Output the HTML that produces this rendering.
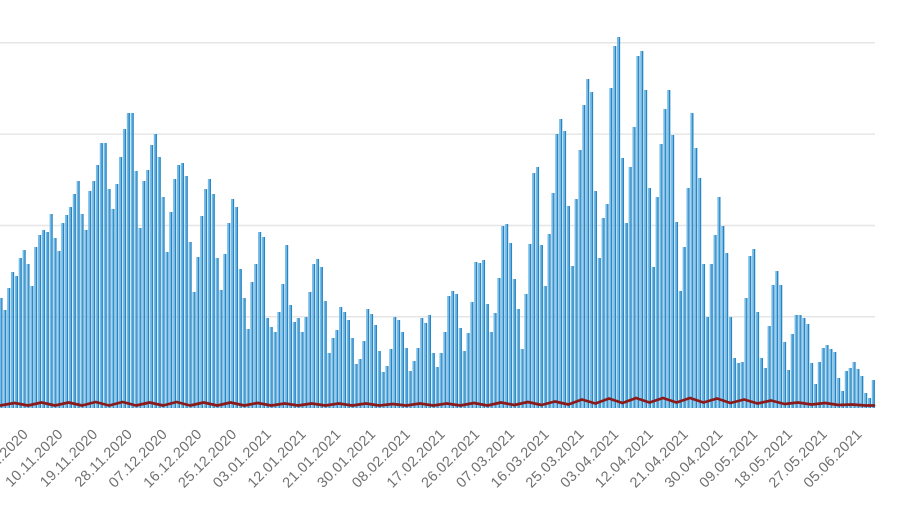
<!DOCTYPE html>
<html>
<head>
<meta charset="utf-8">
<style>
html,body{margin:0;padding:0;background:#fff;}
body{width:900px;height:505px;overflow:hidden;}
svg{display:block;}
text{font-family:"Liberation Sans",Arial,sans-serif;font-size:14.5px;fill:#707070;letter-spacing:0.3px;}
</style>
</head>
<body>
<svg width="900" height="505" viewBox="0 0 900 505" xmlns="http://www.w3.org/2000/svg">
<rect x="0" y="0" width="900" height="505" fill="#ffffff"/>
<g stroke="#e6e6e6" stroke-width="1.5">
<line x1="0" y1="42.8" x2="875" y2="42.8"/>
<line x1="0" y1="134.1" x2="875" y2="134.1"/>
<line x1="0" y1="225.5" x2="875" y2="225.5"/>
<line x1="0" y1="316.8" x2="875" y2="316.8"/>
</g>
<defs>
<path id="bars" fill="none" stroke-linecap="butt" stroke-linejoin="bevel" d="M1,408
V298V408m3.86,0V310V408m3.86,0V288V408m3.86,0V272V408m3.86,0V276V408m3.86,0V258V408m3.86,0V250V408m3.86,0V264V408m3.86,0V286V408m3.86,0V247V408m3.86,0
V235V408m3.86,0V230V408m3.86,0V232V408m3.86,0V214V408m3.86,0V238V408m3.86,0V251V408m3.86,0V223V408m3.86,0V215V408m3.86,0V207V408m3.86,0V194V408m3.86,0
V181V408m3.86,0V214V408m3.86,0V230V408m3.86,0V191V408m3.86,0V181V408m3.86,0V165V408m3.86,0V143V408m3.86,0V143V408m3.86,0V189V408m3.86,0V209V408m3.86,0
V184V408m3.86,0V157V408m3.86,0V129V408m3.86,0V113V408m3.86,0V113V408m3.86,0V171V408m3.86,0V228V408m3.86,0V181V408m3.86,0V170V408m3.86,0V145V408m3.86,0
V134V408m3.86,0V157V408m3.86,0V197V408m3.86,0V252V408m3.86,0V212V408m3.86,0V179V408m3.86,0V165V408m3.86,0V163V408m3.86,0V176V408m3.86,0V242V408m3.86,0
V292V408m3.86,0V257V408m3.86,0V216V408m3.86,0V189V408m3.86,0V179V408m3.86,0V194V408m3.86,0V258V408m3.86,0
V290V408m3.86,0V254V408m3.86,0V223V408m3.86,0V199V408m3.86,0V207V408m3.86,0V269V408m3.86,0V298V408m3.86,0V329V408m3.86,0V282V408m3.86,0V264V408m3.86,0
V232V408m3.86,0V237V408m3.86,0V318V408m3.86,0V327V408m3.86,0V332V408m3.86,0V312V408m3.86,0V284V408m3.86,0V245V408m3.86,0V305V408m3.86,0V322V408m3.86,0
V318V408m3.86,0V332V408m3.86,0V317V408m3.86,0V292V408m3.86,0V264V408m3.86,0V259V408m3.86,0V267V408m3.86,0V301V408m3.86,0V353V408m3.86,0V338V408m3.86,0
V330V408m3.86,0V307V408m3.86,0V312V408m3.86,0V320V408m3.86,0V338V408m3.86,0V364V408m3.86,0V359V408m3.86,0V341V408m3.86,0V309V408m3.86,0V314V408m3.86,0
V325V408m3.86,0V351V408m3.86,0V372V408m3.86,0V366V408m3.86,0V349V408m3.86,0V317V408m3.86,0V320V408m3.86,0V332V408m3.86,0V348V408m3.86,0V371V408m3.86,0
V361V408m3.86,0V348V408m3.86,0V318V408m3.86,0V323V408m3.86,0V315V408m3.86,0V353V408m3.86,0V367V408m3.86,0
V353V408m3.86,0V332V408m3.86,0V296V408m3.86,0V291V408m3.86,0V294V408m3.86,0V328V408m3.86,0V351V408m3.86,0V333V408m3.86,0V302V408m3.86,0V262V408m3.86,0
V263V408m3.86,0V260V408m3.86,0V304V408m3.86,0V332V408m3.86,0V313V408m3.86,0V278V408m3.86,0V226V408m3.86,0V224V408m3.86,0V243V408m3.86,0V279V408m3.86,0
V309V408m3.86,0V349V408m3.86,0V294V408m3.86,0V244V408m3.86,0V173V408m3.86,0V167V408m3.86,0V245V408m3.86,0V286V408m3.86,0V234V408m3.86,0V193V408m3.86,0
V134V408m3.86,0V119V408m3.86,0V131V408m3.86,0V206V408m3.86,0V266V408m3.86,0V199V408m3.86,0V150V408m3.86,0V105V408m3.86,0V79V408m3.86,0V92V408m3.86,0
V191V408m3.86,0V258V408m3.86,0V218V408m3.86,0V204V408m3.86,0V88V408m3.86,0V46V408m3.86,0V37V408m3.86,0V158V408m3.86,0V223V408m3.86,0V167V408m3.86,0
V127V408m3.86,0V56V408m3.86,0V51V408m3.86,0V90V408m3.86,0V188V408m3.86,0V267V408m3.86,0V197V408m3.86,0V144V408m3.86,0
V109V408m3.86,0V90V408m3.86,0V135V408m3.86,0V222V408m3.86,0V291V408m3.86,0V247V408m3.86,0V188V408m3.86,0V113V408m3.86,0V148V408m3.86,0V178V408m3.86,0
V264V408m3.86,0V317V408m3.86,0V264V408m3.86,0V235V408m3.86,0V197V408m3.86,0V226V408m3.86,0V253V408m3.86,0V317V408m3.86,0V358V408m3.86,0V363V408m3.86,0
V362V408m3.86,0V298V408m3.86,0V256V408m3.86,0V249V408m3.86,0V312V408m3.86,0V358V408m3.86,0V368V408m3.86,0V326V408m3.86,0V285V408m3.86,0V271V408m3.86,0
V285V408m3.86,0V342V408m3.86,0V370V408m3.86,0V334V408m3.86,0V315V408m3.86,0V315V408m3.86,0V318V408m3.86,0V324V408m3.86,0V363V408m3.86,0V384V408m3.86,0
V362V408m3.86,0V348V408m3.86,0V345V408m3.86,0V349V408m3.86,0V352V408m3.86,0V378V408m3.86,0V391V408m3.86,0V371V408m3.86,0V368V408m3.86,0V362V408m3.86,0
V369V408m3.86,0V376V408m3.86,0V393V408m3.86,0V398V408m3.86,0V380V408"/>
</defs>
<use href="#bars" stroke="#74bbe8" stroke-width="1.75" transform="translate(-0.7,0)"/>
<use href="#bars" stroke="#2685c2" stroke-width="1.4" transform="translate(0.85,0)"/>
<path fill="none" stroke="#8b1a1a" stroke-width="2.7" stroke-linejoin="round" stroke-linecap="round" d="M0,405.5 L14.5,403 L28,405.5 L41.5,402.5 L55,405.5 L68.6,402.5 L82.1,405.5 L95.6,402 L109.1,405.5 L122.6,402 L136.1,405.5 L149.6,402.5 L163.1,405.5 L176.6,402 L190.1,405.5 L203.7,402.5 L217.2,405.5 L230.7,402.5 L244.2,405.5 L257.7,403 L271.2,405.5 L284.7,403.5 L298.2,405.5 L311.7,403.5 L325.2,405.5 L338.8,403.5 L352.3,405.5 L365.8,403.5 L379.3,405.5 L392.8,404 L406.3,405.5 L419.8,403.5 L433.3,405.5 L446.8,403.5 L460.3,405.5 L473.9,403 L487.4,405.5 L500.9,402.5 L514.4,405 L527.9,402 L541.4,405 L554.9,401.5 L568.4,404.5 L581.9,399.5 L595.4,403.5 L609,398.5 L622.5,403 L636,398 L649.5,402.5 L663,398 L676.5,402.5 L690,398 L703.5,402.5 L717,398.5 L730.5,403 L744.1,399.5 L757.6,403.5 L771.1,400.5 L784.6,404 L798.1,402.5 L811.6,404.5 L825.1,403 L838.6,405 L852.1,404.5 L865.6,405.5 L874,405.5"/>
<g text-anchor="end">
<text transform="translate(29,435) rotate(-45)">01.11.2020</text>
<text transform="translate(63.8,435) rotate(-45)">10.11.2020</text>
<text transform="translate(98.5,435) rotate(-45)">19.11.2020</text>
<text transform="translate(133.2,435) rotate(-45)">28.11.2020</text>
<text transform="translate(168,435) rotate(-45)">07.12.2020</text>
<text transform="translate(202.7,435) rotate(-45)">16.12.2020</text>
<text transform="translate(237.5,435) rotate(-45)">25.12.2020</text>
<text transform="translate(272.2,435) rotate(-45)">03.01.2021</text>
<text transform="translate(306.9,435) rotate(-45)">12.01.2021</text>
<text transform="translate(341.7,435) rotate(-45)">21.01.2021</text>
<text transform="translate(376.4,435) rotate(-45)">30.01.2021</text>
<text transform="translate(411.2,435) rotate(-45)">08.02.2021</text>
<text transform="translate(445.9,435) rotate(-45)">17.02.2021</text>
<text transform="translate(480.6,435) rotate(-45)">26.02.2021</text>
<text transform="translate(515.4,435) rotate(-45)">07.03.2021</text>
<text transform="translate(550.1,435) rotate(-45)">16.03.2021</text>
<text transform="translate(584.9,435) rotate(-45)">25.03.2021</text>
<text transform="translate(619.6,435) rotate(-45)">03.04.2021</text>
<text transform="translate(654.3,435) rotate(-45)">12.04.2021</text>
<text transform="translate(689.1,435) rotate(-45)">21.04.2021</text>
<text transform="translate(723.8,435) rotate(-45)">30.04.2021</text>
<text transform="translate(758.6,435) rotate(-45)">09.05.2021</text>
<text transform="translate(793.3,435) rotate(-45)">18.05.2021</text>
<text transform="translate(828,435) rotate(-45)">27.05.2021</text>
<text transform="translate(862.8,435) rotate(-45)">05.06.2021</text>
</g>
</svg>
</body>
</html>
